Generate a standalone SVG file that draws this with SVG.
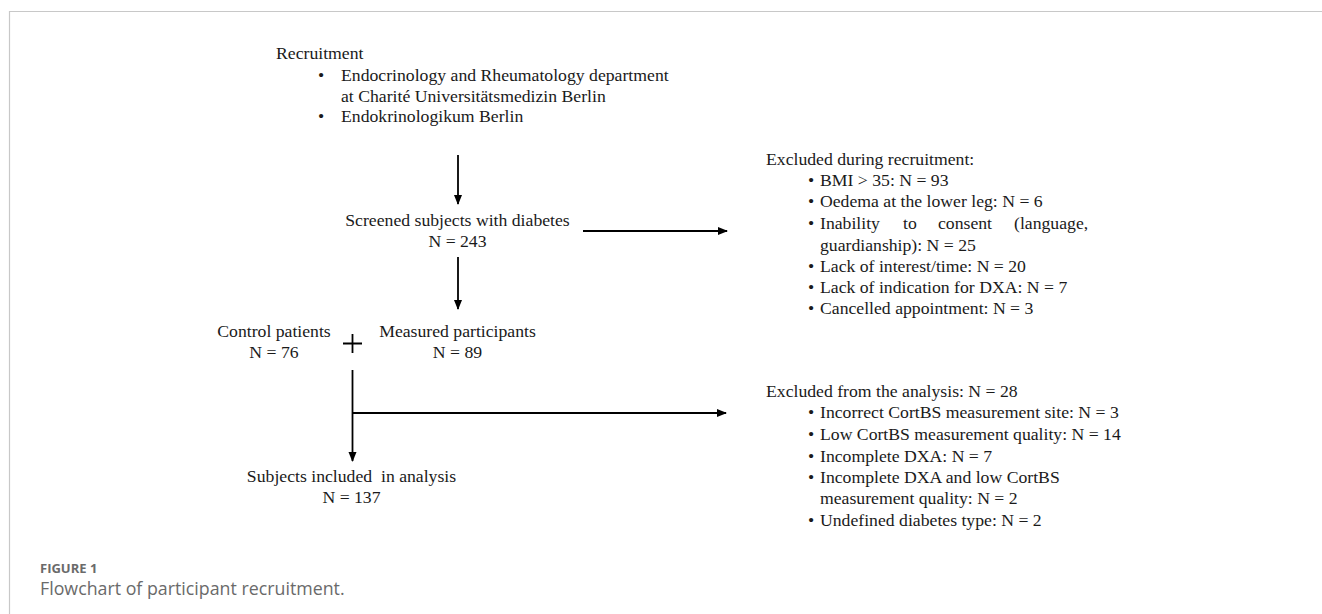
<svg xmlns="http://www.w3.org/2000/svg" width="1322" height="614" viewBox="0 0 1322 614">
<style>
.t{font-family:"Liberation Serif","Times New Roman",serif;font-size:17.7px;fill:#1a1a1a;white-space:pre}
.c{text-anchor:middle}
.ln{stroke:#000;stroke-width:1.8;fill:none}
.frame{stroke:#c8c8c8;stroke-width:1.2;fill:none}
.cap1{font-family:"Open Sans","Liberation Sans",sans-serif;font-size:13px;font-weight:bold;fill:#6a6a6a}
.cap2{font-family:"Open Sans","Liberation Sans",sans-serif;font-size:17.8px;fill:#6a6a6a}
</style>
<defs>
<marker id="ah" markerUnits="userSpaceOnUse" markerWidth="10" markerHeight="10" viewBox="0 0 10 10" refX="9" refY="5" orient="auto">
<path d="M0,1 L10,5 L0,9 Z" fill="#000"/>
</marker>
</defs>
<rect width="1322" height="614" fill="#fff"/>
<path class="frame" d="M9.5,614 V11.5 H1322"/>

<g id="recruitment">
<text class="t" x="276" y="59">Recruitment</text>
<text class="t" x="318" y="81">•</text>
<text class="t" x="341" y="81">Endocrinology and Rheumatology department</text>
<text class="t" x="341" y="102">at Charité Universitätsmedizin Berlin</text>
<text class="t" x="318" y="122">•</text>
<text class="t" x="341" y="122">Endokrinologikum Berlin</text>
</g>

<g id="screened">
<text class="t c" x="457.5" y="226">Screened subjects with diabetes</text>
<text class="t c" x="457.5" y="247">N = 243</text>
</g>

<g id="excluded-recruitment">
<text class="t" x="766" y="165">Excluded during recruitment:</text>
<text class="t" x="808" y="186">•</text><text class="t" x="820" y="186">BMI &gt; 35: N = 93</text>
<text class="t" x="808" y="207">•</text><text class="t" x="820" y="207">Oedema at the lower leg: N = 6</text>
<text class="t" x="808" y="229">•</text><text class="t" y="229"><tspan x="820">Inability</tspan><tspan x="903">to</tspan><tspan x="938">consent</tspan><tspan x="1014">(language,</tspan></text>
<text class="t" x="820" y="251">guardianship): N = 25</text>
<text class="t" x="808" y="272">•</text><text class="t" x="820" y="272">Lack of interest/time: N = 20</text>
<text class="t" x="808" y="293">•</text><text class="t" x="820" y="293">Lack of indication for DXA: N = 7</text>
<text class="t" x="808" y="314">•</text><text class="t" x="820" y="314">Cancelled appointment: N = 3</text>
</g>

<g id="control">
<text class="t c" x="274" y="337">Control patients</text>
<text class="t c" x="274" y="358">N = 76</text>
</g>

<g id="plus">
<path class="ln" d="M343,343.5 H362 M352.5,334 V353"/>
</g>

<g id="measured">
<text class="t c" x="457.5" y="337">Measured participants</text>
<text class="t c" x="457.5" y="358">N = 89</text>
</g>

<g id="excluded-analysis">
<text class="t" x="766" y="397">Excluded from the analysis: N = 28</text>
<text class="t" x="808" y="418">•</text><text class="t" x="820" y="418">Incorrect CortBS measurement site: N = 3</text>
<text class="t" x="808" y="440">•</text><text class="t" x="820" y="440">Low CortBS measurement quality: N = 14</text>
<text class="t" x="808" y="462">•</text><text class="t" x="820" y="462">Incomplete DXA: N = 7</text>
<text class="t" x="808" y="483">•</text><text class="t" x="820" y="483">Incomplete DXA and low CortBS</text>
<text class="t" x="820" y="504">measurement quality: N = 2</text>
<text class="t" x="808" y="526">•</text><text class="t" x="820" y="526">Undefined diabetes type: N = 2</text>
</g>

<g id="included">
<text class="t c" x="351.5" y="482" xml:space="preserve">Subjects included  in analysis</text>
<text class="t c" x="351.5" y="503">N = 137</text>
</g>

<g id="connectors">
<line class="ln" x1="458" y1="155" x2="458" y2="204" marker-end="url(#ah)"/>
<line class="ln" x1="458" y1="257" x2="458" y2="309" marker-end="url(#ah)"/>
<line class="ln" x1="583" y1="231" x2="727" y2="231" marker-end="url(#ah)"/>
<line class="ln" x1="352.5" y1="370" x2="352.5" y2="461" marker-end="url(#ah)"/>
<line class="ln" x1="352.5" y1="413" x2="726" y2="413" marker-end="url(#ah)"/>
</g>

<g id="caption">
<text class="cap1" x="40" y="573">FIGURE 1</text>
<text class="cap2" x="40" y="595">Flowchart of participant recruitment.</text>
</g>
</svg>
